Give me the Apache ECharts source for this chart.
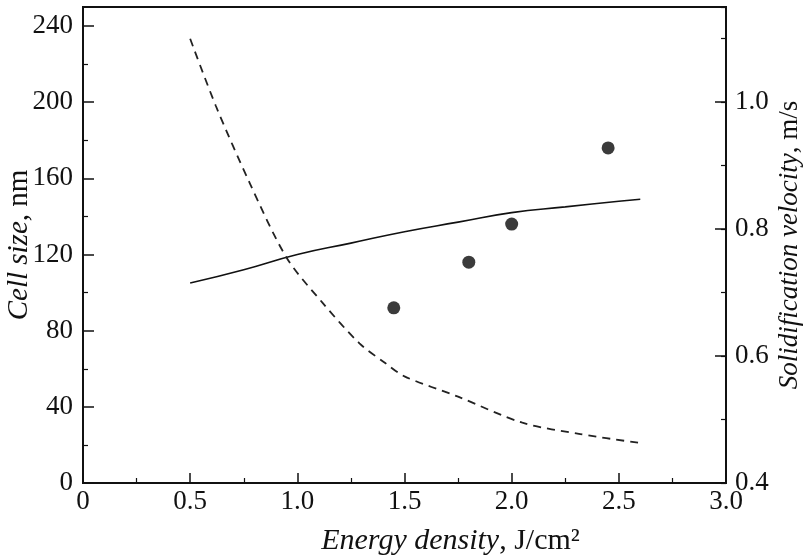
<!DOCTYPE html>
<html>
<head>
<meta charset="utf-8">
<script src="https://cdn.jsdelivr.net/npm/echarts@6/dist/echarts.min.js"></script>
<style>html,body{margin:0;padding:0;background:#fff}#c{width:811px;height:556px}</style>
</head>
<body>
<div id="c"></div>
<script>
// Calculated cell size (solid line, left axis)
var energySolid = [0.5, 0.75, 1.0, 1.25, 1.5, 1.75, 2.0, 2.25, 2.5, 2.6];
var cellSizeCalc = [105, 112, 120, 126, 132, 137, 142, 145, 148, 149];
// Solidification velocity (dashed line, right axis)
var energyDashed = [0.5, 0.62, 0.78, 0.95, 1.12, 1.29, 1.41, 1.5, 1.75, 2.05, 2.32, 2.6];
var velocity = [1.10, 0.994, 0.871, 0.755, 0.683, 0.620, 0.589, 0.568, 0.536, 0.495, 0.477, 0.463];
// Measured cell size (points, left axis)
var energyExp = [1.45, 1.8, 2.0, 2.45];
var cellSizeExp = [92, 116, 136, 176];

var FONT = 'Liberation Serif';
var tickFont = 27;

function zip(a, b) { return a.map(function (v, i) { return [v, b[i]]; }); }
function titleStyle(size) {
  return {rich: {
    i: {fontFamily: FONT, fontStyle: 'italic', fontSize: size, color: '#111'},
    r: {fontFamily: FONT, fontSize: size, color: '#111'}}};
}

var chart = echarts.init(document.getElementById('c'), null, {renderer: 'canvas'});
chart.setOption({
  backgroundColor: '#fff',
  animation: false,
  grid: {left: 83, right: 85, top: 7, bottom: 73, containLabel: false, outerBoundsMode: 'none',
    show: true, borderColor: '#111', borderWidth: 2, backgroundColor: 'transparent'},
  xAxis: {
    type: 'value', min: 0, max: 3, interval: 0.5,
    axisLine: {show: true, lineStyle: {color: '#111', width: 2}},
    axisTick: {show: true, inside: true, length: 10, lineStyle: {color: '#111', width: 1.5}},
    minorTick: {show: true, splitNumber: 2, length: 5, lineStyle: {color: '#111', width: 1.2}},
    splitLine: {show: false},
    axisLabel: {color: '#111', fontFamily: FONT, fontSize: tickFont, margin: 5,
      formatter: function (v) { return v === 0 ? '0' : v.toFixed(1); }},
    name: '{i|Energy density}{r|, J/cm²}',
    nameLocation: 'middle', nameGap: 43, nameMoveOverlap: false,
    nameTextStyle: Object.assign({padding: [0, 0, 0, 92]}, titleStyle(30))
  },
  yAxis: [{
    type: 'value', min: 0, max: 250, interval: 40,
    axisLine: {show: true, lineStyle: {color: '#111', width: 2}},
    axisTick: {show: true, inside: true, length: 11, lineStyle: {color: '#111', width: 1.5}},
    minorTick: {show: true, splitNumber: 2, length: 5, lineStyle: {color: '#111', width: 1.2}},
    splitLine: {show: false},
    axisLabel: {color: '#111', fontFamily: FONT, fontSize: tickFont, margin: 10, showMaxLabel: false},
    name: '{i|Cell size}{r|, nm}',
    nameLocation: 'middle', nameGap: 49, nameRotate: 90, nameMoveOverlap: false,
    nameTextStyle: titleStyle(29)
  }, {
    type: 'value', position: 'right', min: 0.4, max: 1.15, interval: 0.2,
    axisLine: {show: true, lineStyle: {color: '#111', width: 2}},
    axisTick: {show: true, inside: true, length: 11, lineStyle: {color: '#111', width: 1.5}},
    splitLine: {show: false},
    axisLabel: {color: '#111', fontFamily: FONT, fontSize: tickFont, margin: 9, showMaxLabel: false,
      formatter: function (v) { return v.toFixed(1); }},
    name: '{i|Solidification velocity}{r|, m/s}',
    nameLocation: 'middle', nameGap: 50, nameRotate: 90, nameMoveOverlap: false,
    nameTextStyle: titleStyle(27)
  }, {
    type: 'value', position: 'right', min: 0.4, max: 1.15, interval: 0.1,
    axisLine: {show: false},
    axisTick: {show: true, inside: true, length: 5, lineStyle: {color: '#111', width: 1.2}},
    splitLine: {show: false},
    axisLabel: {show: false}
  }],
  series: [{
    type: 'line', name: 'calc', data: zip(energySolid, cellSizeCalc), yAxisIndex: 0,
    smooth: true, symbol: 'none', lineStyle: {color: '#111', width: 1.6}
  }, {
    type: 'line', name: 'velocity', data: zip(energyDashed, velocity), yAxisIndex: 1,
    smooth: 0.3, symbol: 'none', lineStyle: {color: '#222', width: 1.8, type: [8, 6]}
  }, {
    type: 'scatter', name: 'exp', data: zip(energyExp, cellSizeExp), yAxisIndex: 0,
    symbol: 'circle', symbolSize: 13, itemStyle: {color: '#0a0a0a'}
  }]
});
</script>
</body>
</html>
